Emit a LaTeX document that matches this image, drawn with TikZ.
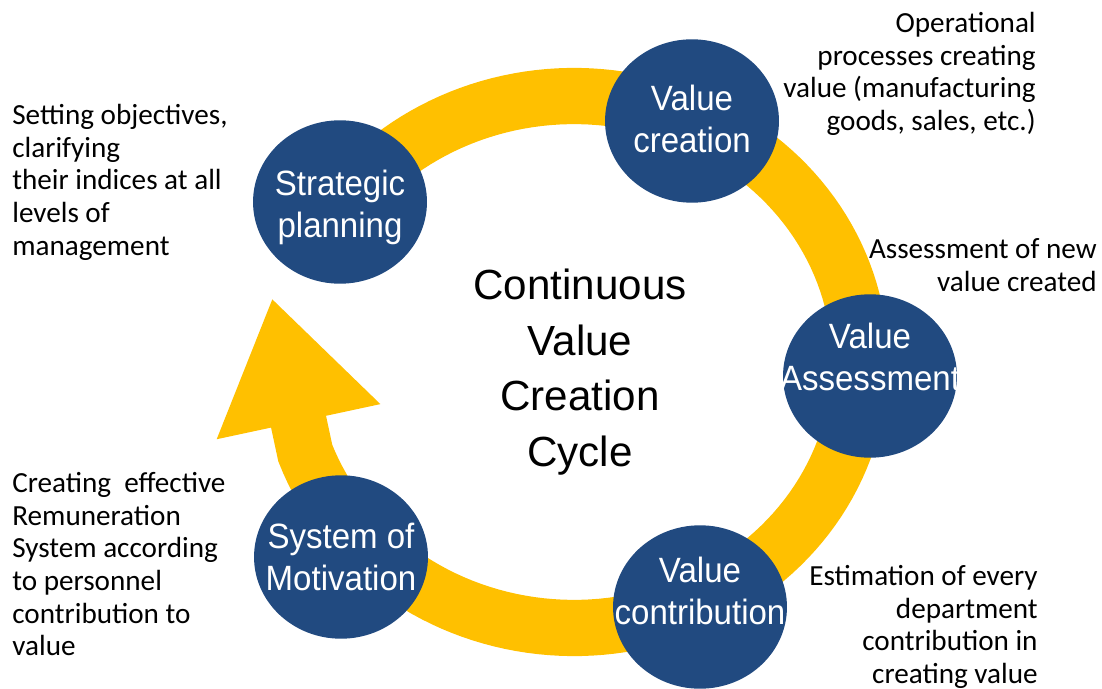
\documentclass[tikz,border=0pt]{standalone}
\usepackage{fontspec}
\setmainfont{Carlito}
\newfontfamily\headfont{Liberation Sans}
\newfontfamily\narrowfont[FakeStretch=0.94]{Liberation Sans}
\usetikzlibrary{arrows.meta,shapes.geometric}

\definecolor{ringgold}{RGB}{255,192,0}
\definecolor{stageblue}{RGB}{33,74,128}

\tikzset{
  band/.style={ringgold, line width=32pt, -{Triangle[length=72pt,width=90pt]}},
  stage/.style={ellipse, fill=stageblue, inner sep=0pt,
    minimum width=99pt, minimum height=93pt},
  stagetext/.style={text=white, inner sep=0pt, align=center,
    font=\narrowfont\fontsize{20}{24}\selectfont},
  note/.style={inner sep=0pt, font=\fontsize{16.6}{18.6}\selectfont},
}

\begin{document}
\begin{tikzpicture}[x=0.02cm, y=-0.02cm]
\useasboundingbox (0,0) rectangle (1102,689);

% the cycle band (elliptic), ending in the arrow under the first stage
\draw[band] plot[domain=-144:160, samples=150]
  ({574+286*cos(\x)}, {362+266*sin(\x)}) -- (272,298);

% stages
\node[stage] (plan) at (340,202) {};
\node[stage] (create) at (692,121) {};
\node[stage] (assess) at (870,376) {};
\node[stage] (contrib) at (700,607) {};
\node[stage] (motiv) at (341,557) {};

\node[stagetext] (plantext) at ([yshift=-3pt]plan) {Strategic\\planning};
\node[stagetext] (createtext) at ([yshift=1pt]create) {Value\\creation};
\node[stagetext] (assesstext) at ([yshift=11pt]assess) {Value\\Assessment};
\node[stagetext] (contribtext) at ([yshift=9pt]contrib) {Value\\contribution};
\node[stagetext] (motivtext) at (motiv) {System of\\Motivation};

% title in the middle
\node[align=center, font=\headfont\fontsize{24}{31.7}\selectfont] (cycle)
  at (580,372) {Continuous\\Value\\Creation\\Cycle};

% notes
\node[note, anchor=north west, align=left] (plannote) at (12,104)
  {Setting objectives,\\clarifying\\their indices at all\\levels of\\management};
\node[note, anchor=north east, align=right] (createnote) at (1036,12)
  {Operational\\processes creating\\value (manufacturing\\goods, sales, etc.)};
\node[note, anchor=north east, align=right] (assessnote) at (1097,238)
  {Assessment of new\\value created};
\node[note, anchor=north east, align=right] (contribnote) at (1038,565)
  {Estimation of every\\department\\contribution in\\creating value};
\node[note, anchor=north west, align=left] (motivnote) at (12,472)
  {Creating~ effective\\Remuneration\\System according\\to personnel\\contribution to\\value};
\end{tikzpicture}
\end{document}
